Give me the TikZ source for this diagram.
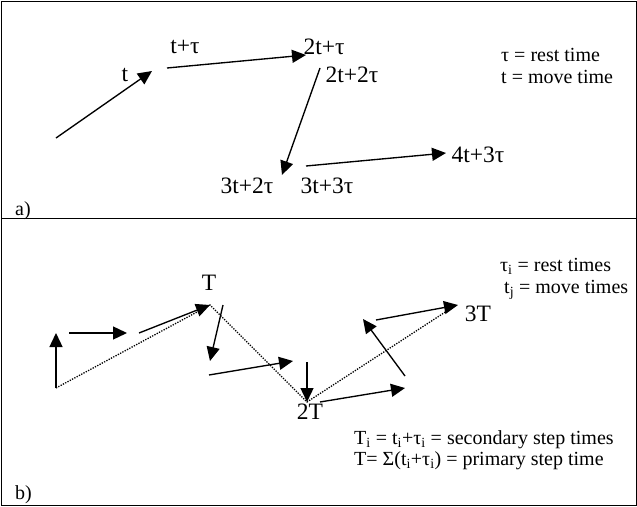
\documentclass[tikz,border=0pt]{standalone}
\usepackage{fontspec}
\setmainfont{Liberation Serif}
\usetikzlibrary{arrows.meta}
\newcommand\subi[1]{\smash{\textsubscript{#1}}}
\tikzset{>={Triangle[length=14pt,width=13pt]},
  move/.style={->,line width=1.35pt},
  route/.style={line width=1.3pt,dash pattern=on 1.3pt off 1.3pt},
  lbl/.style={inner sep=0pt,font=\fontsize{23.5}{25}\selectfont},
  key/.style={inner sep=0pt,anchor=west,font=\fontsize{20}{22}\selectfont}}

\begin{document}
\begin{tikzpicture}[x=1pt,y=-1pt]
\useasboundingbox (0,0) rectangle (637,506);
\draw[line width=1pt] (1,1) rectangle (636,505);
\draw[line width=1pt] (1,218) -- (636,218);

% a) single steps
\coordinate (a0) at (56,138);
\coordinate (a1) at (152,71);
\coordinate (a2) at (167,68);
\coordinate (a3) at (306,55);
\coordinate (a4) at (320,68);
\coordinate (a5) at (282,175);
\coordinate (a6) at (306,166);
\coordinate (a7) at (446,153);
\draw[move] (a0) -- (a1);
\draw[move] (a2) -- (a3);
\draw[move] (a4) -- (a5);
\draw[move] (a6) -- (a7);
\node[lbl] (t1) at (125,75) {t};
\node[lbl] (t2) at (185,47) {t+τ};
\node[lbl] (t3) at (324,47) {2t+τ};
\node[lbl] (t4) at (352,75) {2t+2τ};
\node[lbl] (t5) at (247,186) {3t+2τ};
\node[lbl] (t6) at (327,186) {3t+3τ};
\node[lbl] (t7) at (478,155) {4t+3τ};
\node[key] (ka1) at (501,55) {τ = rest time};
\node[key] (ka2) at (501,77) {t = move time};
\node[key] (pa) at (15,211) {a)};

% b) secondary and primary steps
\coordinate (b0) at (56,388);
\coordinate (b1) at (56,333);
\coordinate (b2) at (69,333);
\coordinate (b3) at (127,333);
\coordinate (b4) at (139,333);
\coordinate (b5) at (210,305);
\coordinate (b6) at (223,305);
\coordinate (b7) at (210,361);
\coordinate (b8) at (209,375);
\coordinate (b9) at (293,361);
\coordinate (b10) at (307,362);
\coordinate (b11) at (307,402);
\coordinate (b12) at (320,402);
\coordinate (b13) at (405,388);
\coordinate (b14) at (405,376);
\coordinate (b15) at (363,319);
\coordinate (b16) at (376,320);
\coordinate (b17) at (458,305);
\coordinate (b18) at (453,307);
\draw[route] (b0) -- (b5) -- (b11) -- (b18);
\draw[move] (b0) -- (b1);
\draw[move] (b2) -- (b3);
\draw[move] (b4) -- (b5);
\draw[move] (b6) -- (b7);
\draw[move] (b8) -- (b9);
\draw[move] (b10) -- (b11);
\draw[move] (b12) -- (b13);
\draw[move] (b14) -- (b15);
\draw[move] (b16) -- (b17);
\node[lbl] (T1) at (209,283) {T};
\node[lbl] (T2) at (310,412) {2T};
\node[lbl] (T3) at (478,314) {3T};
\node[key] (kb1) at (500,265) {τ\subi{i} = rest times};
\node[key] (kb2) at (504,287) {t\subi{j} = move times};
\node[key] (kb3) at (354,440) {T\subi{i} = t\subi{i}+τ\subi{i} = secondary step times};
\node[key] (kb4) at (354,461) {T= Σ(t\subi{i}+τ\subi{i}) = primary step time};
\node[key] (pb) at (15,495) {b)};
\end{tikzpicture}
\end{document}
